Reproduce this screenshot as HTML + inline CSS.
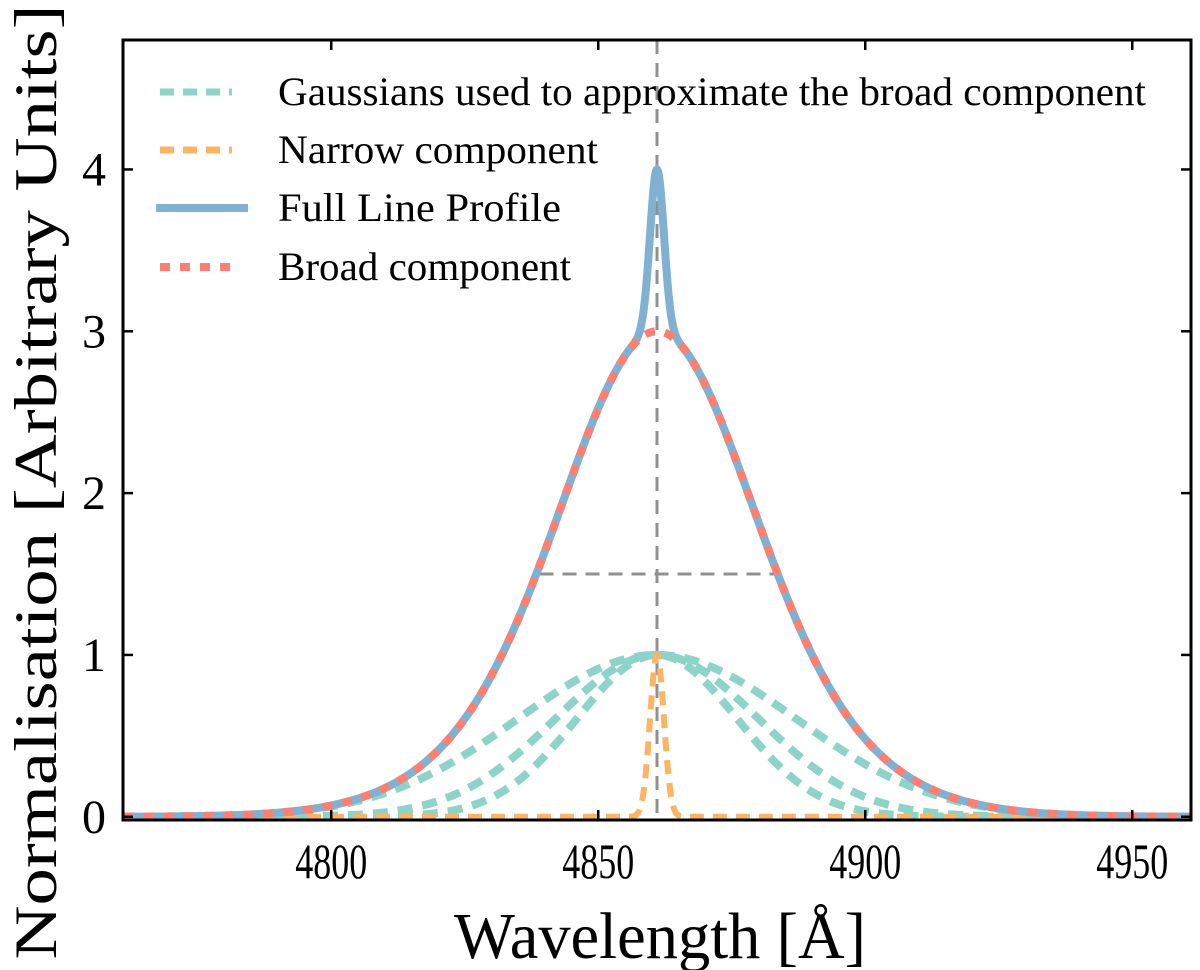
<!DOCTYPE html>
<html><head><meta charset="utf-8"><style>
html,body{margin:0;padding:0;background:#fff;}
svg{display:block;font-family:"Liberation Serif",serif;}
</style></head><body>
<svg id="chart" width="1200" height="970">
<defs><clipPath id="clip"><rect x="123" y="40" width="1068" height="780"/></clipPath></defs>
<g id="plot" clip-path="url(#clip)"></g>
<g id="axes"></g>
<g id="legend"></g>
</svg>
<script>
const xTicks = [4800, 4850, 4900, 4950];
const yTicks = [0, 1, 2, 3, 4];
const lineCenter = [4861];
const gaussAmps = [1, 1, 1];
const gaussSigmas = [26, 19, 15];
const narrowAmp = [1];
const narrowSigma = [1.3];
const fwhmEdges = [4839, 4884];
const fwhmLevel = [1.5];
const xDomain = [4761, 4961];
const yDomain = [-0.02, 4.8];
const legendLabels = ["Gaussians used to approximate the broad component","Narrow component","Full Line Profile","Broad component"];
const legendWidths = [868, 320, 283, 293];

const L=123,R=1191,T=40,B=820;
const sx=v=>L+(v-xDomain[0])/(xDomain[1]-xDomain[0])*(R-L);
const sy=v=>B-(v-yDomain[0])/(yDomain[1]-yDomain[0])*(B-T);
const NS='http://www.w3.org/2000/svg';
function mk(tag,attrs,parent){const e=document.createElementNS(NS,tag);for(const k in attrs)e.setAttribute(k,attrs[k]);parent.appendChild(e);return e;}
const plot=document.getElementById('plot'),axes=document.getElementById('axes'),legend=document.getElementById('legend');
const c0=lineCenter[0];
const gauss=(x,a,s,c)=>a*Math.exp(-((x-c)**2)/(2*s*s));
const xs=[];for(let x=xDomain[0];x<=xDomain[1];x+=0.1)xs.push(x);
function path(f){return xs.map((x,i)=>(i?'L':'M')+sx(x).toFixed(2)+','+sy(f(x)).toFixed(2)).join('');}
const broad=x=>gaussAmps.reduce((s,a,i)=>s+gauss(x,a,gaussSigmas[i],c0),0);
const narrow=x=>gauss(x,narrowAmp[0],narrowSigma[0],c0);

let g1=mk('line',{x1:sx(c0),x2:sx(c0),y1:T,y2:B,stroke:'#909090','stroke-width':3,'stroke-dasharray':'14,9'},plot);

let g2=mk('line',{x1:sx(fwhmEdges[0]),x2:sx(fwhmEdges[1]),y1:sy(fwhmLevel[0]),y2:sy(fwhmLevel[0]),stroke:'#909090','stroke-width':3,'stroke-dasharray':'14,9'},plot);


gaussSigmas.forEach((s,i)=>{
  const p=mk('path',{d:path(x=>gauss(x,gaussAmps[i],s,c0)),fill:'none',stroke:'#8dd3c7','stroke-width':8,'stroke-dasharray':'15,10'},plot);
  
  
});
let pn=mk('path',{d:path(narrow),fill:'none',stroke:'#fdb462','stroke-width':6,'stroke-dasharray':'14,9'},plot);

let pf=mk('path',{d:path(x=>broad(x)+narrow(x)),fill:'none',stroke:'#80b1d3','stroke-width':8},plot);

let pb=mk('path',{d:path(broad),fill:'none',stroke:'#fb8072','stroke-width':8,'stroke-dasharray':'10,10'},plot);


let fr=mk('rect',{x:L,y:T,width:R-L,height:B-T,fill:'none',stroke:'#000','stroke-width':3},axes);

xTicks.forEach(v=>{
  mk('line',{x1:sx(v),x2:sx(v),y1:B,y2:B-10,stroke:'#000','stroke-width':2.5},axes);
  mk('line',{x1:sx(v),x2:sx(v),y1:T,y2:T+10,stroke:'#000','stroke-width':2.5},axes);
  const t=mk('text',{x:sx(v),y:B+58,'font-size':50,'text-anchor':'middle',textLength:72,lengthAdjust:'spacingAndGlyphs'},axes);t.textContent=v;
  
});
yTicks.forEach(v=>{
  mk('line',{x1:L,x2:L+10,y1:sy(v),y2:sy(v),stroke:'#000','stroke-width':2.5},axes);
  mk('line',{x1:R,x2:R-10,y1:sy(v),y2:sy(v),stroke:'#000','stroke-width':2.5},axes);
  const t=mk('text',{x:106,y:sy(v)+16,'font-size':48,'text-anchor':'end'},axes);t.textContent=v;
  
});
let xt=mk('text',{x:660,y:958,'font-size':66,'text-anchor':'middle',textLength:412,lengthAdjust:'spacingAndGlyphs'},axes);xt.textContent='Wavelength [Å]';

let yt=mk('text',{x:0,y:0,'font-size':60,'text-anchor':'middle',transform:'translate(56,482) rotate(-90)',textLength:955,lengthAdjust:'spacingAndGlyphs'},axes);yt.textContent='Normalisation [Arbitrary Units]';


const ly=[92,150,208,267];
const lstyle=[{s:'#8dd3c7',d:'14,9',w:7},{s:'#fdb462',d:'14,9',w:7},{s:'#80b1d3',d:'',w:8},{s:'#fb8072',d:'10,10',w:8}];
legendLabels.forEach((lab,i)=>{
  const st=lstyle[i];
  const ln=mk('line',{x1:i==2?156:160,x2:i==2?248:232,y1:ly[i],y2:ly[i],stroke:st.s,'stroke-width':st.w,'stroke-dasharray':st.d},legend);
  
  const t=mk('text',{x:278,y:ly[i]+13,'font-size':40,textLength:legendWidths[i],lengthAdjust:'spacingAndGlyphs'},legend);t.textContent=lab;
  
});
</script>
</body></html>
